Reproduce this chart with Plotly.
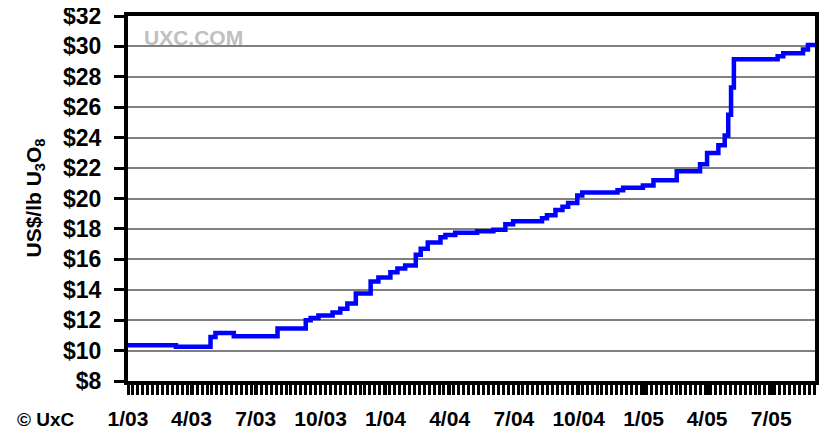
import plotly.graph_objects as go

# Step points of the weekly spot price (date when the price changed, US$/lb U3O8)
step_dates = [
    "2003-01-01", "2003-03-10", "2003-04-28", "2003-05-05", "2003-05-31",
    "2003-08-01", "2003-09-10", "2003-09-17", "2003-09-28", "2003-10-18",
    "2003-10-29", "2003-11-08", "2003-11-20", "2003-12-11", "2003-12-22",
    "2004-01-08", "2004-01-18", "2004-01-29", "2004-02-13", "2004-02-20",
    "2004-03-01", "2004-03-19", "2004-03-26", "2004-04-09", "2004-05-10",
    "2004-06-02", "2004-06-19", "2004-06-30", "2004-08-10", "2004-08-17",
    "2004-08-29", "2004-09-08", "2004-09-16", "2004-09-29", "2004-10-06",
    "2004-11-25", "2004-12-03", "2004-12-31", "2005-01-15", "2005-02-17",
    "2005-03-22", "2005-04-01", "2005-04-17", "2005-04-26", "2005-05-01",
    "2005-05-05", "2005-05-09", "2005-07-10", "2005-07-18", "2005-08-15",
    "2005-08-22", "2005-09-01",
]
step_prices = [
    10.35, 10.25, 10.90, 11.15, 10.95,
    11.45, 12.00, 12.15, 12.30, 12.50,
    12.75, 13.10, 13.75, 14.55, 14.80,
    15.15, 15.40, 15.60, 16.30, 16.70,
    17.10, 17.45, 17.60, 17.75, 17.85,
    17.95, 18.30, 18.50, 18.70, 18.90,
    19.25, 19.45, 19.70, 20.20, 20.40,
    20.55, 20.70, 20.85, 21.20, 21.80,
    22.25, 23.00, 23.50, 24.15, 25.50,
    27.30, 29.15, 29.35, 29.55, 29.80,
    30.10, 30.20,
]

x_tick_dates = ["2003-01-01", "2003-04-01", "2003-07-01", "2003-10-01",
                "2004-01-01", "2004-04-01", "2004-07-01", "2004-10-01",
                "2005-01-01", "2005-04-01", "2005-07-01"]
x_tick_labels = ["1/03", "4/03", "7/03", "10/03", "1/04", "4/04", "7/04",
                 "10/04", "1/05", "4/05", "7/05"]
y_tick_vals = [8, 10, 12, 14, 16, 18, 20, 22, 24, 26, 28, 30, 32]
y_tick_labels = ["$" + str(v) for v in y_tick_vals]

fig = go.Figure()
fig.add_trace(go.Scatter(
    x=step_dates, y=step_prices, mode="lines",
    line=dict(color="#0000ff", width=4.5, shape="hv"),
    hoverinfo="skip", showlegend=False,
))

font_bold = "Liberation Sans, Arial, sans-serif"

# The page body has an 8px default margin, so the figure is sized to fit the
# 839x442 window without scrollbars.
fig.update_layout(
    width=823, height=426,
    margin=dict(l=120, r=16, t=8, b=53),
    paper_bgcolor="white", plot_bgcolor="white",
    font=dict(family=font_bold, color="black"),
    xaxis=dict(
        range=["2003-01-01", "2005-09-01"],
        automargin=False,
        tickmode="array", tickvals=x_tick_dates, ticktext=x_tick_labels,
        ticks="outside", ticklen=10, tickwidth=3, tickcolor="black",
        showgrid=False, zeroline=False,
        showline=True, linecolor="black", linewidth=4, mirror=True,
        tickfont=dict(size=21, family=font_bold, color="black", weight="bold"),
        ticklabelstandoff=6,
        ticklabeloverflow="allow",
        minor=dict(ticks="outside", ticklen=10, tickwidth=3, tickcolor="black",
                   tickmode="linear", tick0="2003-01-01",
                   dtick=7 * 24 * 3600 * 1000, showgrid=False),
    ),
    yaxis=dict(
        range=[8, 32],
        automargin=False,
        tickmode="array", tickvals=y_tick_vals, ticktext=y_tick_labels,
        ticks="outside", ticklen=10, tickwidth=3, tickcolor="black",
        showgrid=True, gridcolor="#808080", gridwidth=2, zeroline=False,
        showline=True, linecolor="black", linewidth=4, mirror=True,
        tickfont=dict(size=23, family=font_bold, color="black", weight="bold"),
        ticklabelstandoff=8,
        ticklabeloverflow="allow",
    ),
    annotations=[
        dict(text="US$/lb U<sub>3</sub>O<sub>8</sub>", textangle=-90,
             xref="paper", yref="paper", x=(34 - 128) / 687, y=0.50,
             xanchor="center", yanchor="middle", showarrow=False,
             font=dict(size=21, family=font_bold, color="black", weight="bold")),
        dict(text="© UxC", xref="paper", yref="paper",
             x=(15 - 128) / 687, y=(381 - 419) / 365,
             xanchor="left", yanchor="middle", showarrow=False,
             font=dict(size=19, family=font_bold, color="black", weight="bold")),
        dict(text="UXC.COM", xref="paper", yref="paper",
             x=(142 - 128) / 687, y=(381 - 38) / 365,
             xanchor="left", yanchor="middle", showarrow=False,
             font=dict(size=21, family=font_bold, color="#c0c0c0", weight="bold")),
    ],
)

fig.write_html("out.html")
